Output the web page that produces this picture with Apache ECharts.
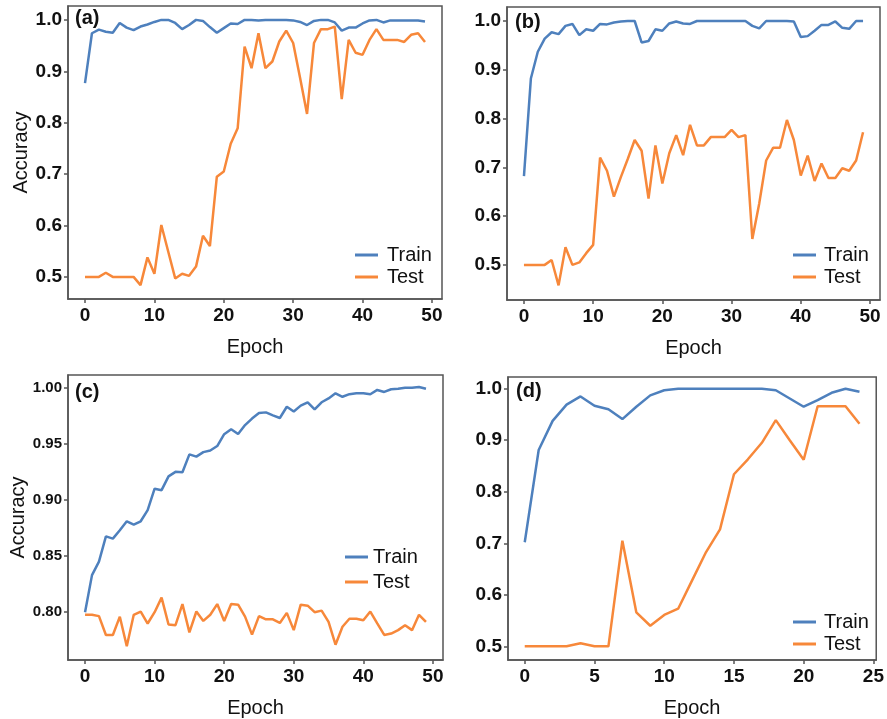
<!DOCTYPE html>
<html>
<head>
<meta charset="utf-8">
<script src="https://cdn.jsdelivr.net/npm/echarts@6/dist/echarts.min.js"></script>
<style>
  html, body { margin: 0; padding: 0; background: #fff; }
  #main { width: 887px; height: 719px; }
</style>
</head>
<body>
<div id="main"></div>
<script>
// values, one entry per epoch
var trainA = [0.877, 0.974, 0.981, 0.977, 0.975, 0.994, 0.985, 0.980, 0.987, 0.991,
  0.996, 1.0, 1.0, 0.994, 0.982, 0.990, 1.0, 0.998, 0.986, 0.975,
  0.984, 0.993, 0.992, 1.0, 1.0, 0.999, 1.0, 1.0, 1.0, 1.0,
  0.999, 0.996, 0.990, 0.998, 1.0, 1.0, 0.995, 0.979, 0.985, 0.985,
  0.993, 0.999, 1.0, 0.995, 0.999, 0.999, 0.999, 0.999, 0.999, 0.997];
var testA = [0.5, 0.5, 0.5, 0.508, 0.5, 0.5, 0.5, 0.5, 0.484, 0.538,
  0.506, 0.601, 0.549, 0.497, 0.506, 0.502, 0.52, 0.58, 0.56, 0.695,
  0.705, 0.759, 0.789, 0.948, 0.906, 0.974, 0.906, 0.919, 0.958, 0.979,
  0.955, 0.887, 0.817, 0.955, 0.982, 0.982, 0.987, 0.846, 0.961, 0.936,
  0.932, 0.961, 0.982, 0.961, 0.961, 0.961, 0.957, 0.971, 0.974, 0.957];

var trainB = [0.682, 0.882, 0.937, 0.964, 0.977, 0.973, 0.990, 0.994, 0.971, 0.983,
  0.980, 0.994, 0.993, 0.997, 0.999, 1.0, 1.0, 0.956, 0.959, 0.983,
  0.980, 0.995, 0.999, 0.995, 0.994, 1.0, 1.0, 1.0, 1.0, 1.0,
  1.0, 1.0, 1.0, 0.990, 0.985, 1.0, 1.0, 1.0, 1.0, 0.999,
  0.967, 0.969, 0.980, 0.992, 0.992, 0.999, 0.986, 0.984, 1.0, 1.0];
var testB = [0.5, 0.5, 0.5, 0.5, 0.51, 0.458, 0.536, 0.5, 0.505, 0.524,
  0.541, 0.72, 0.693, 0.64, 0.68, 0.717, 0.756, 0.734, 0.636, 0.745,
  0.667, 0.729, 0.766, 0.725, 0.787, 0.745, 0.745, 0.762, 0.762, 0.762,
  0.777, 0.762, 0.766, 0.553, 0.626, 0.714, 0.74, 0.74, 0.797, 0.756,
  0.683, 0.724, 0.672, 0.708, 0.678, 0.678, 0.698, 0.693, 0.714, 0.772];

var trainC = [0.800, 0.833, 0.845, 0.8675, 0.8655, 0.873, 0.881, 0.878, 0.881, 0.891,
  0.910, 0.9087, 0.921, 0.925, 0.9246, 0.9406, 0.9386, 0.9426, 0.944, 0.948,
  0.9586, 0.963, 0.9588, 0.9667, 0.9725, 0.9774, 0.978, 0.9754, 0.973, 0.983,
  0.9788, 0.984, 0.987, 0.9806, 0.987, 0.9904, 0.995, 0.9919, 0.9942, 0.995,
  0.995, 0.9942, 0.998, 0.9962, 0.9986, 0.999, 1.0, 1.0, 1.0006, 0.999];
var testC = [0.7977, 0.7977, 0.7965, 0.7797, 0.7797, 0.796, 0.7696, 0.7977, 0.8006, 0.7899,
  0.800, 0.813, 0.789, 0.7884, 0.8072, 0.782, 0.8006, 0.7922, 0.7977, 0.8072,
  0.7922, 0.8072, 0.8067, 0.796, 0.780, 0.7965, 0.7936, 0.7936, 0.7904, 0.7994,
  0.784, 0.8067, 0.8058, 0.800, 0.8014, 0.7913, 0.771, 0.787, 0.7942, 0.7942,
  0.7928, 0.8006, 0.790, 0.7797, 0.781, 0.784, 0.7884, 0.784, 0.7977, 0.7913];

var trainD = [0.702, 0.881, 0.9375, 0.969, 0.985, 0.967, 0.960, 0.941, 0.965, 0.987,
  0.997, 1.0, 1.0, 1.0, 1.0, 1.0, 1.0, 1.0, 0.997, 0.981,
  0.965, 0.978, 0.992, 1.0, 0.994];
var testD = [0.5, 0.5, 0.5, 0.5, 0.506, 0.5, 0.5, 0.705, 0.566, 0.54,
  0.561, 0.573, 0.628, 0.683, 0.727, 0.834, 0.863, 0.895, 0.939, 0.90,
  0.862, 0.966, 0.966, 0.966, 0.932];

var xTicks50 = [0, 10, 20, 30, 40, 50];
var xTicks25 = [0, 5, 10, 15, 20, 25];
var yTicks = [0.5, 0.6, 0.7, 0.8, 0.9, 1.0];
var yTicksC = [0.80, 0.85, 0.90, 0.95, 1.00];
var panelLabels = ['(a)', '(b)', '(c)', '(d)'];

var BLUE = '#4e80bd';
var ORANGE = '#f7883a';
var AXIS = '#555';
var TEXT = '#111';
var FONT = 'Liberation Sans, Arial, sans-serif';

function pairs(arr) {
  return arr.map(function (v, i) { return [i, v]; });
}

function xAxis(idx, min, max, ticks) {
  return {
    type: 'value', gridIndex: idx, min: min, max: max,
    name: 'Epoch', nameLocation: 'middle', nameGap: 38,
    nameTextStyle: { fontSize: 20, color: TEXT, fontFamily: FONT },
    axisLine: { show: true, onZero: false, lineStyle: { color: AXIS, width: 1.5 } },
    axisTick: { show: true, customValues: ticks, length: 4, lineStyle: { color: AXIS, width: 1.5 } },
    axisLabel: { customValues: ticks, fontSize: 19, fontWeight: 'bold', color: TEXT, fontFamily: FONT, margin: 7 },
    splitLine: { show: false }
  };
}

function yAxis(idx, min, max, ticks, digits, size, named) {
  return {
    type: 'value', gridIndex: idx, min: min, max: max,
    name: named ? 'Accuracy' : '', nameLocation: 'middle', nameGap: 37,
    nameTextStyle: { fontSize: 20, color: TEXT, fontFamily: FONT },
    axisLine: { show: true, onZero: false, lineStyle: { color: AXIS, width: 1.5 } },
    axisTick: { show: true, customValues: ticks, length: 4, lineStyle: { color: AXIS, width: 1.5 } },
    axisLabel: {
      customValues: ticks, fontSize: size, fontWeight: 'bold', color: TEXT, fontFamily: FONT, margin: 6,
      formatter: function (v) { return v.toFixed(digits); }
    },
    splitLine: { show: false }
  };
}

function line(name, data, color, idx) {
  return {
    name: name, type: 'line', xAxisIndex: idx, yAxisIndex: idx,
    data: pairs(data), symbol: 'none', smooth: false, animation: false,
    lineStyle: { color: color, width: 2.5 }, itemStyle: { color: color }
  };
}

function legend(left, top, pad, gap) {
  return {
    orient: 'vertical', left: left, top: top, itemGap: gap, padding: 0,
    itemWidth: 23, itemHeight: 3, icon: 'rect', selectedMode: false,
    data: ['Train', 'Test'],
    textStyle: { fontSize: 20, color: TEXT, fontFamily: FONT, padding: [0, 0, 0, pad] }
  };
}

function label(i, left, top) {
  return {
    text: panelLabels[i], left: left, top: top, padding: 0,
    textStyle: { fontSize: 20, fontWeight: 'bold', color: TEXT, fontFamily: FONT }
  };
}

var chart = echarts.init(document.getElementById('main'), null, { renderer: 'canvas' });

chart.setOption({
  backgroundColor: '#fff',
  animation: false,
  title: [label(0, 75, 8), label(1, 515, 12), label(2, 75, 382), label(3, 516, 381)],
  legend: [legend(355, 245, 4, 2), legend(793, 245, 3, 2), legend(345, 547, 0, 5), legend(793, 612, 3, 2)],
  grid: [
    { left: 68, top: 6, width: 374, height: 293, show: true, borderColor: AXIS, borderWidth: 1.5 },
    { left: 507, top: 7, width: 373, height: 293, show: true, borderColor: AXIS, borderWidth: 1.5 },
    { left: 68, top: 375, width: 375, height: 292, show: true, borderColor: AXIS, borderWidth: 1.5 },
    { left: 508, top: 377, width: 372, height: 290, show: true, borderColor: AXIS, borderWidth: 1.5 }
  ],
  xAxis: [
    xAxis(0, -2.45, 51.45, xTicks50),
    xAxis(1, -2.45, 51.45, xTicks50),
    xAxis(2, -2.45, 51.45, xTicks50),
    xAxis(3, -1.2, 25.2, xTicks25)
  ],
  yAxis: [
    yAxis(0, 0.457, 1.027, yTicks, 1, 19, true),
    yAxis(1, 0.428, 1.0287, yTicks, 1, 19, false),
    yAxis(2, 0.7574, 1.0113, yTicksC, 2, 15, true),
    yAxis(3, 0.4735, 1.0227, yTicks, 1, 19, false)
  ],
  series: [
    line('Train', trainA, BLUE, 0), line('Test', testA, ORANGE, 0),
    line('Train', trainB, BLUE, 1), line('Test', testB, ORANGE, 1),
    line('Train', trainC, BLUE, 2), line('Test', testC, ORANGE, 2),
    line('Train', trainD, BLUE, 3), line('Test', testD, ORANGE, 3)
  ]
});
</script>
</body>
</html>
